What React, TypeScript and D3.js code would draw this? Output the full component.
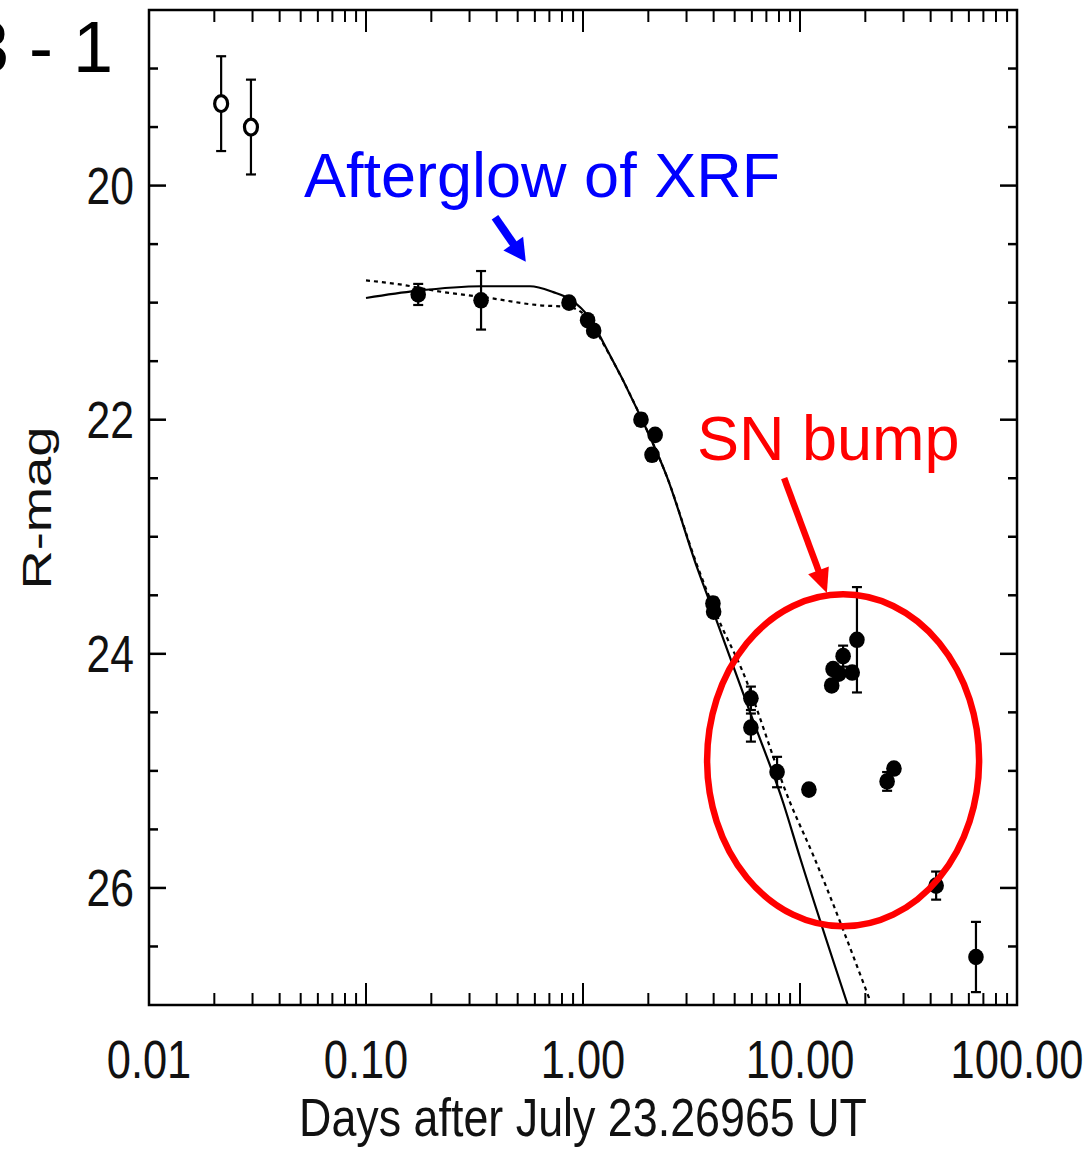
import React from "react";
import * as d3 from "d3";

// ---------- data ----------
const openDays = [0.0215, 0.0295];
const openMag = [19.3, 19.5];
const openErr = [0.405, 0.405];

const obsDays = [0.174, 0.339, 0.862, 1.05, 1.12, 1.85, 2.08, 2.15, 3.97, 4.0, 5.94, 5.94, 7.84, 10.99, 14.0, 14.2, 15.1, 15.8, 17.4, 18.3, 25.2, 27.1, 42.4, 64.7];
const obsMag = [20.93, 20.98, 21.0, 21.15, 21.24, 22.0, 22.3, 22.13, 23.57, 23.64, 24.38, 24.63, 25.01, 25.16, 24.27, 24.13, 24.17, 24.02, 24.16, 23.88, 25.09, 24.98, 25.98, 26.59];
const obsErr = [0.09, 0.25, 0, 0, 0, 0.05, 0.05, 0, 0.05, 0, 0.1, 0.12, 0.13, 0, 0, 0, 0, 0.09, 0, 0.45, 0.08, 0, 0.12, 0.3];

const solidDays = [0.1, 0.17, 0.34, 0.57, 0.73, 0.87, 1.07, 1.24, 1.85, 2.44, 3.35, 3.97, 5.94, 8.36, 10.0, 16.6];
const solidMag = [20.96, 20.9, 20.86, 20.86, 20.91, 20.97, 21.13, 21.34, 21.98, 22.49, 23.26, 23.63, 24.52, 25.27, 25.74, 27.0];

const dashDays = [0.1, 0.15, 0.21, 0.37, 0.61, 0.87, 1.07, 1.24, 1.85, 2.44, 3.35, 4.2, 5.41, 9.0, 11.5, 21.0];
const dashMag = [20.81, 20.85, 20.9, 20.96, 21.02, 21.04, 21.15, 21.35, 21.98, 22.49, 23.24, 23.7, 24.14, 25.27, 25.72, 26.96];

const xMajor = [0.01, 0.1, 1, 10, 100];
const yMajor = [20, 22, 24, 26];

const xTitle = "Days after July 23.26965 UT";
const yTitle = "R-mag";
const cornerLabel = "3 - 1";
const blueNote = "Afterglow of XRF";
const redNote = "SN bump";

// ---------- layout ----------
const W = 1089, H = 1149;
const L = 149, R = 1017, T = 10, B = 1005;
const sans = "'Liberation Sans', Arial, sans-serif";
const NARROW = 0.82; // condensed look of the reference's axis lettering

function Arrow({ x1, y1, x2, y2, color, width, headLen, headW }) {
  const dx = x2 - x1, dy = y2 - y1;
  const len = Math.sqrt(dx * dx + dy * dy);
  const ux = dx / len, uy = dy / len;
  const px = -uy, py = ux;
  const bx = x2 - ux * headLen, by = y2 - uy * headLen;
  const pts = [
    [x2, y2],
    [bx + px * headW / 2, by + py * headW / 2],
    [bx - px * headW / 2, by - py * headW / 2],
  ];
  return (
    <g>
      <line x1={x1} y1={y1} x2={bx + ux * 2} y2={by + uy * 2} stroke={color} strokeWidth={width} />
      <polygon points={pts.map((p) => p.join(",")).join(" ")} fill={color} />
    </g>
  );
}

export default function App() {
  const x = d3.scaleLog().domain([0.01, 100]).range([L, R]);
  const y = d3.scaleLinear().domain([18.5, 27]).range([T, B]);

  const xTicks = x.ticks().filter((v) => v > 0.01 && v < 100);
  const yTicks = d3.range(19, 27, 0.5);
  const isMajorX = (v) => Math.abs(Math.log10(v) - Math.round(Math.log10(v))) < 1e-6;
  const isMajorY = (v) => yMajor.includes(v);

  const line = d3
    .line<[number, number]>()
    .x((d) => x(d[0]))
    .y((d) => y(d[1]))
    .curve(d3.curveMonotoneX);
  const solid = line(solidDays.map((d, i) => [d, solidMag[i]]));
  const dashed = line(dashDays.map((d, i) => [d, dashMag[i]]));

  const fmt = d3.format(".2f");

  return (
    <svg width={W} height={H} style={{ position: "absolute", left: 0, top: 0, background: "#fff" }}>
      <defs>
        <clipPath id="plot">
          <rect x={L} y={T} width={R - L} height={B - T} />
        </clipPath>
      </defs>
      <rect x={0} y={0} width={W} height={H} fill="#fff" />

      {/* corner label (cropped at the left edge, as in the reference) */}
      <text x={-31} y={72} fontFamily={sans} fontSize={72} fill="#000">{cornerLabel}</text>

      {/* ticks */}
      {xTicks.map((v, i) => {
        const len = isMajorX(v) ? 22 : 12;
        const px = x(v);
        return (
          <g key={"xt" + i} stroke="#000" strokeWidth={2}>
            <line x1={px} x2={px} y1={T} y2={T + len} />
            <line x1={px} x2={px} y1={B} y2={B - len} />
          </g>
        );
      })}
      {yTicks.map((v, i) => {
        const len = isMajorY(v) ? 17 : 9;
        const py = y(v);
        return (
          <g key={"yt" + i} stroke="#000" strokeWidth={2.5}>
            <line x1={L} x2={L + len} y1={py} y2={py} />
            <line x1={R} x2={R - len} y1={py} y2={py} />
          </g>
        );
      })}

      {/* frame */}
      <rect x={L} y={T} width={R - L} height={B - T} fill="none" stroke="#000" strokeWidth={2.5} />

      {/* tick labels */}
      {xMajor.map((v, i) => (
        <text
          key={"xl" + i}
          transform={`translate(${x(v)},1078) scale(${NARROW},1)`}
          textAnchor="middle"
          fontFamily={sans}
          fontSize={53}
          fill="#111"
        >
          {fmt(v)}
        </text>
      ))}
      {yMajor.map((v, i) => (
        <text
          key={"yl" + i}
          transform={`translate(134,${y(v) + 18}) scale(${NARROW},1)`}
          textAnchor="end"
          fontFamily={sans}
          fontSize={52}
          fill="#111"
        >
          {v}
        </text>
      ))}

      {/* axis titles */}
      <text
        transform={`translate(583,1136) scale(0.83,1)`}
        textAnchor="middle"
        fontFamily={sans}
        fontSize={54}
        fill="#111"
      >
        {xTitle}
      </text>
      <text
        transform={`translate(51,508) rotate(-90) scale(1.36,1)`}
        textAnchor="middle"
        fontFamily={sans}
        fontSize={40}
        fill="#111"
      >
        {yTitle}
      </text>

      {/* fit curves */}
      <g clipPath="url(#plot)" fill="none" stroke="#000">
        <path d={solid} strokeWidth={2.2} />
        <path d={dashed} strokeWidth={2.2} strokeDasharray="4,4" />
      </g>

      {/* error bars */}
      <g stroke="#000" strokeWidth={2.2}>
        {openDays.map((d, i) => (
          <g key={"oe" + i}>
            <line x1={x(d)} x2={x(d)} y1={y(openMag[i] - openErr[i])} y2={y(openMag[i] + openErr[i])} />
            <line x1={x(d) - 5} x2={x(d) + 5} y1={y(openMag[i] - openErr[i])} y2={y(openMag[i] - openErr[i])} />
            <line x1={x(d) - 5} x2={x(d) + 5} y1={y(openMag[i] + openErr[i])} y2={y(openMag[i] + openErr[i])} />
          </g>
        ))}
        {obsDays.map((d, i) =>
          obsErr[i] > 0 ? (
            <g key={"fe" + i}>
              <line x1={x(d)} x2={x(d)} y1={y(obsMag[i] - obsErr[i])} y2={y(obsMag[i] + obsErr[i])} />
              <line x1={x(d) - 5} x2={x(d) + 5} y1={y(obsMag[i] - obsErr[i])} y2={y(obsMag[i] - obsErr[i])} />
              <line x1={x(d) - 5} x2={x(d) + 5} y1={y(obsMag[i] + obsErr[i])} y2={y(obsMag[i] + obsErr[i])} />
            </g>
          ) : null
        )}
      </g>

      {/* points */}
      {openDays.map((d, i) => (
        <ellipse key={"op" + i} cx={x(d)} cy={y(openMag[i])} rx={6.5} ry={8} fill="#fff" stroke="#000" strokeWidth={3.2} />
      ))}
      {obsDays.map((d, i) => (
        <ellipse key={"fp" + i} cx={x(d)} cy={y(obsMag[i])} rx={7.8} ry={8.3} fill="#000" />
      ))}

      {/* annotations */}
      <text x={304} y={197} fontFamily={sans} fontSize={63} fill="#0000ff">{blueNote}</text>
      <Arrow x1={x(0.393)} y1={y(20.27)} x2={x(0.545)} y2={y(20.65)} color="#0000ff" width={8} headLen={22} headW={24} />

      <text x={697} y={460} fontFamily={sans} fontSize={63} fill="#ff0000">{redNote}</text>
      <Arrow x1={x(8.45)} y1={y(22.5)} x2={x(13.3)} y2={y(23.48)} color="#ff0000" width={6.5} headLen={24} headW={22} />
      <ellipse cx={x(15.8)} cy={y(24.91)} rx={136} ry={166} fill="none" stroke="#ff0000" strokeWidth={6.5} />
    </svg>
  );
}
